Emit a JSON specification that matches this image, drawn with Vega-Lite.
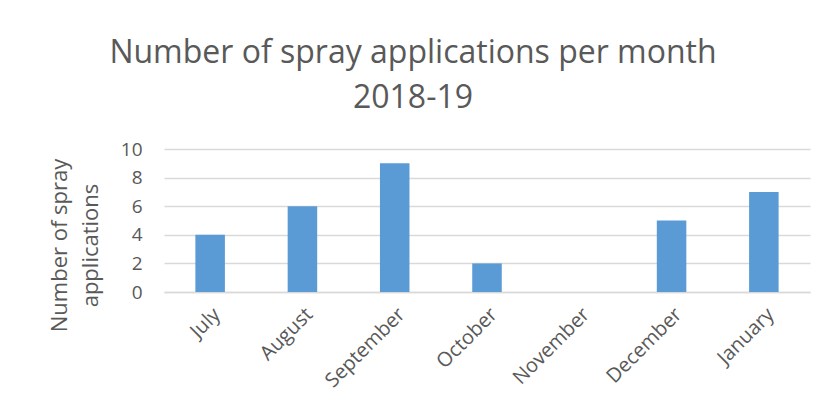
{
  "$schema": "https://vega.github.io/schema/vega-lite/v6.json",
  "width": 646,
  "height": 143,
  "autosize": "none",
  "padding": {"left": 164, "top": 149, "right": 15, "bottom": 125},
  "background": "white",
  "title": {
    "text": ["Number of spray applications per month", "2018-19"],
    "font": "Open Sans",
    "fontSize": 32,
    "fontWeight": "normal",
    "color": "#595959",
    "anchor": "middle",
    "dx": -74,
    "offset": 25,
    "lineHeight": 45
  },
  "data": {
    "values": [
      {"month": "July", "count": 4},
      {"month": "August", "count": 6},
      {"month": "September", "count": 9},
      {"month": "October", "count": 2},
      {"month": "November", "count": 0},
      {"month": "December", "count": 5},
      {"month": "January", "count": 7}
    ]
  },
  "mark": {"type": "bar", "color": "#5b9bd5"},
  "encoding": {
    "x": {
      "field": "month",
      "type": "nominal",
      "sort": null,
      "scale": {"paddingInner": 0.68, "paddingOuter": 0.34},
      "axis": {
        "title": null,
        "labelAngle": -45,
        "labelFont": "Open Sans",
        "labelFontSize": 20,
        "labelColor": "#595959",
        "labelPadding": 12,
        "ticks": false,
        "domainColor": "#d9d9d9",
        "domainWidth": 1.5
      }
    },
    "y": {
      "field": "count",
      "type": "quantitative",
      "scale": {"domain": [0, 10]},
      "axis": {
        "title": ["Number of spray", "applications"],
        "titleFont": "Open Sans",
        "titleFontSize": 22,
        "titleFontWeight": "normal",
        "titleColor": "#595959",
        "titlePadding": 18,
        "titleLineHeight": 31,
        "titleY": 96,
        "values": [0, 2, 4, 6, 8, 10],
        "labelFont": "Open Sans",
        "labelFontSize": 19,
        "labelColor": "#595959",
        "labelPadding": 22,
        "ticks": false,
        "domain": false,
        "gridColor": "#d9d9d9",
        "gridWidth": 1.5
      }
    }
  },
  "config": {"view": {"stroke": null}}
}
